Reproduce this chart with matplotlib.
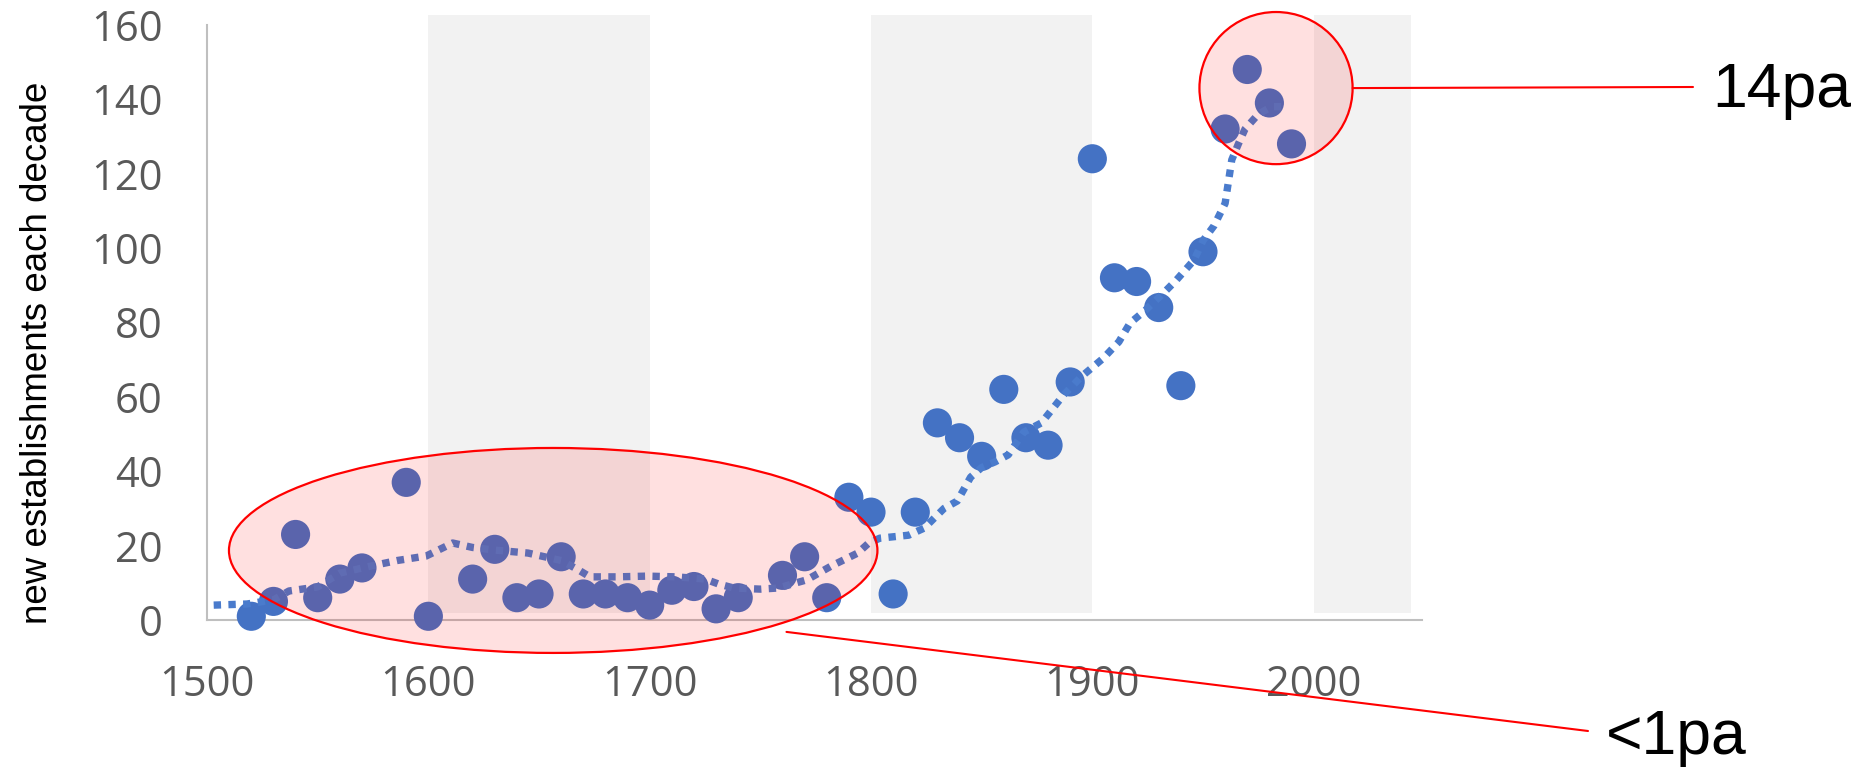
import numpy as np
import matplotlib
matplotlib.use("Agg")
import matplotlib.pyplot as plt
from matplotlib.patches import Ellipse

# decade -> new establishments
decades = [1520, 1530, 1540, 1550, 1560, 1570, 1590, 1600, 1620, 1630,
           1640, 1650, 1660, 1670, 1680, 1690, 1700, 1710, 1720, 1730,
           1740, 1760, 1770, 1780, 1790, 1800, 1810, 1820, 1830, 1840,
           1850, 1860, 1870, 1880, 1890, 1900, 1910, 1920, 1930, 1940,
           1950, 1960, 1970, 1980, 1990]
counts = [1, 5, 23, 6, 11, 14, 37, 1, 11, 19,
          6, 7, 17, 7, 7, 6, 4, 8, 9, 3,
          6, 12, 17, 6, 33, 29, 7, 29, 53, 49,
          44, 62, 49, 47, 64, 124, 92, 91, 84, 63,
          99, 132, 148, 139, 128]

# dotted moving-average trend
trend_x = [1503, 1518, 1530, 1537, 1550, 1560, 1574, 1586, 1599, 1611,
           1620, 1630, 1645, 1660, 1668, 1673, 1685, 1699, 1712, 1725,
           1731, 1738, 1750, 1758, 1771, 1782, 1794, 1799, 1804, 1817,
           1824, 1833, 1839, 1845, 1850, 1856, 1862, 1869, 1877, 1887,
           1895, 1905, 1912, 1917, 1924, 1932, 1938, 1946, 1950, 1955,
           1960, 1963, 1966, 1969, 1975, 1981, 1987]
trend_y = [4, 4.3, 5.4, 7.8, 8.9, 12.6, 14.5, 16, 17.2, 20.7,
           19.5, 18.8, 18, 16, 13.4, 11.6, 11.6, 11.8, 11.6, 11,
           9.7, 8.6, 8.3, 8.6, 10.8, 14.5, 18, 20.7, 22, 22.8,
           24.7, 30, 32, 38.4, 41, 42.5, 44.4, 50.5, 53, 60.5,
           65.4, 70.4, 74.8, 79.8, 83.3, 87.8, 91.4, 96.8, 102, 106,
           112, 123.7, 128, 132, 136, 138, 138]

# shaded alternate centuries
band_start = [1600, 1800, 2000]
band_end = [1700, 1900, 2044]
band_low, band_high = 2, 162.6

xticks = [1500, 1600, 1700, 1800, 1900, 2000]
yticks = [0, 20, 40, 60, 80, 100, 120, 140, 160]

blue = '#4472C4'
grey_txt = '#595959'

fig = plt.figure(figsize=(18.67, 7.68), dpi=100)
ax = fig.add_axes([0.1109, 0.1927, 0.6508, 0.7919])

for s, e in zip(band_start, band_end):
    ax.bar(s, band_high - band_low, width=e - s, bottom=band_low, align='edge',
           color='#F2F2F2', zorder=0, linewidth=0)

ax.scatter(decades, counts, s=440, color=blue, edgecolors='none', zorder=3,
           clip_on=False)
ax.plot(trend_x, trend_y, color='#4A7BCC', linewidth=5.3,
        linestyle=(0, (1, 1)), dash_capstyle='butt', zorder=3.5, clip_on=False)

# annotation shapes
ell = Ellipse((1656.4, 18.7), 293, 55.1, facecolor=(1, 0, 0, 0.12),
              edgecolor='red', linewidth=1.6, zorder=4, clip_on=False)
circ = Ellipse((1983, 143), 69.2, 40.9, facecolor=(1, 0, 0, 0.12),
               edgecolor='red', linewidth=1.6, zorder=4, clip_on=False)
ax.add_patch(ell)
ax.add_patch(circ)

ax.annotate('', xy=(2017.6, 143), xycoords='data',
            xytext=(1693, 681), textcoords='figure pixels',
            annotation_clip=False,
            arrowprops=dict(arrowstyle='-', color='red', lw=1.5,
                            shrinkA=0, shrinkB=0))
ax.annotate('', xy=(1761.8, -3.2), xycoords='data',
            xytext=(1588, 37), textcoords='figure pixels',
            annotation_clip=False,
            arrowprops=dict(arrowstyle='-', color='red', lw=1.5,
                            shrinkA=0, shrinkB=0))
fig.text(1712 / 1867, 661 / 768, '14pa', fontsize=45, family='Liberation Sans',
         ha='left', va='baseline')
fig.text(1606 / 1867, 14 / 768, '<1pa', fontsize=45, family='Liberation Sans',
         ha='left', va='baseline')

ax.set_xlim(1500, 2049)
ax.set_ylim(0, 163.5)
ax.set_xticks(xticks)
ax.set_yticks(yticks)
ax.tick_params(length=0, labelsize=30, labelcolor=grey_txt)
ax.tick_params(axis='y', pad=32)
ax.tick_params(axis='x', pad=32)
for lab in ax.get_xticklabels() + ax.get_yticklabels():
    lab.set_family('Open Sans')

for side in ['top', 'right']:
    ax.spines[side].set_visible(False)
ax.spines['left'].set_color('#BFBFBF')
ax.spines['bottom'].set_color('#BFBFBF')
ax.spines['left'].set_linewidth(1.5)
ax.spines['bottom'].set_linewidth(1.5)
ax.spines['left'].set_bounds(0, 160)
ax.set_facecolor('none')

fig.text(38 / 1867, 0.54, 'new establishments each decade', rotation=90,
         fontsize=26.5, family='Liberation Sans', ha='center', va='center')

fig.savefig('out.png', dpi=100)
